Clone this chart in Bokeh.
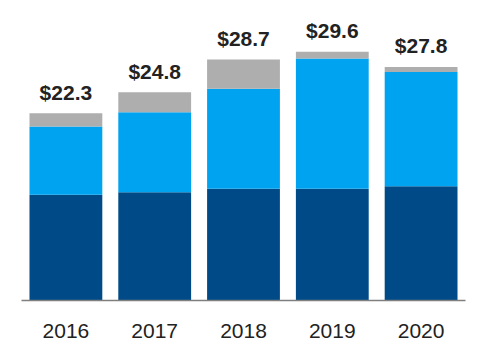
from bokeh.plotting import figure
from bokeh.models import ColumnDataSource, Range1d
from bokeh.core.properties import value
from bokeh.embed import file_html
from bokeh.resources import INLINE

years = ["2016", "2017", "2018", "2019", "2020"]
dark = [12.6, 12.9, 13.3, 13.3, 13.6]
light = [8.1, 9.5, 11.9, 15.5, 13.6]
gray = [1.6, 2.4, 3.5, 0.8, 0.6]
totals = [22.3, 24.8, 28.7, 29.6, 27.8]
total_labels = ["$22.3", "$24.8", "$28.7", "$29.6", "$27.8"]

src = ColumnDataSource(dict(years=years, dark=dark, light=light, gray=gray,
                            totals=totals, labels=total_labels))

p = figure(x_range=years, frame_width=444, frame_height=292, output_backend="svg",
           toolbar_location=None, min_border_left=21, min_border_right=3,
           min_border_top=8, min_border_bottom=44)
p.y_range = Range1d(0, 34.76)

p.vbar_stack(["dark", "light", "gray"], x="years", width=0.82, source=src,
             color=["#004b87", "#00a3f0", "#aeaeae"], line_width=0)

p.text(x="years", y="totals", text="labels", source=src, text_align="center",
       text_baseline="alphabetic", y_offset=-21, text_font=value("Liberation Sans"),
       text_font_style="bold", text_font_size="21px", text_color="#222222")

p.yaxis.visible = False
p.grid.visible = False
p.outline_line_color = None
p.x_range.range_padding = 0
xa = p.xaxis[0]
xa.axis_line_color = "#7f7f7f"
xa.axis_line_width = 1.5
xa.major_tick_line_color = None
xa.minor_tick_line_color = None
xa.major_tick_out = 0
xa.major_label_standoff = 23
xa.major_label_text_font = "Liberation Sans"
xa.major_label_text_font_size = "21px"
xa.major_label_text_color = "#222222"

open("out.html", "w").write(file_html(p, INLINE))
